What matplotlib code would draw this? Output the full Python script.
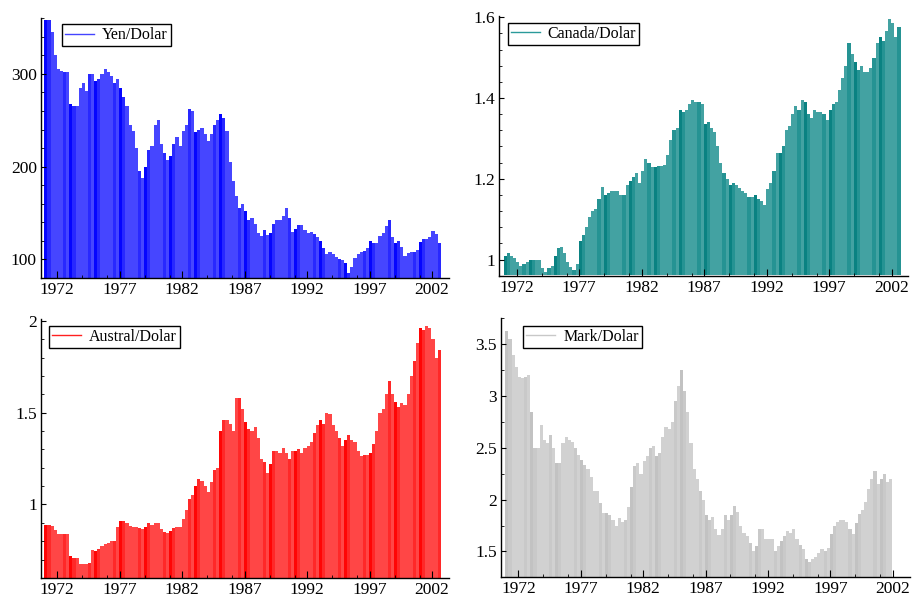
import matplotlib
matplotlib.use("Agg")
import matplotlib.pyplot as plt
import numpy as np

plt.rcParams['font.family'] = ['Liberation Serif', 'DejaVu Serif']

# ---------------- DATA (quarterly) ----------------

start_year = 1971

yen = [358, 358, 345, 320,
       305, 303, 302, 302,
       268, 265, 265, 285,
       290, 282, 300, 300,
       292, 295, 300, 305,
       302, 298, 290, 294,
       285, 275, 265, 245,
       238, 220, 195, 188,
       200, 218, 222, 245,
       250, 225, 215, 207,
       212, 225, 232, 222,
       238, 245, 262, 260,
       237, 240, 242, 235,
       228, 235, 245, 250,
       257, 252, 238, 205,
       185, 168, 155, 160,
       152, 143, 145, 138,
       128, 125, 132, 126,
       128, 138, 143, 143,
       147, 155, 145, 130,
       133, 137, 137, 132,
       128, 130, 127, 124,
       120, 112, 106, 108,
       106, 103, 100, 99,
       96, 85, 92, 102,
       106, 108, 109, 112,
       120, 118, 118, 125,
       129, 136, 142, 124,
       118, 120, 113, 104,
       107, 108, 108, 110,
       119, 122, 122, 124,
       131, 127, 118]

canada = [1.01, 1.015, 1.01, 1.005,
          0.995, 0.985, 0.99, 0.995,
          1.0, 1.0, 1.0, 0.998,
          0.98, 0.97, 0.978, 0.985,
          1.01, 1.028, 1.03, 1.015,
          0.995, 0.982, 0.975, 0.99,
          1.045, 1.06, 1.08, 1.105,
          1.12, 1.125, 1.15, 1.18,
          1.16, 1.165, 1.17, 1.17,
          1.17, 1.16, 1.16, 1.185,
          1.195, 1.205, 1.215, 1.19,
          1.22, 1.25, 1.24, 1.23,
          1.23, 1.232, 1.232, 1.235,
          1.26, 1.295, 1.32, 1.325,
          1.37, 1.365, 1.37, 1.385,
          1.395, 1.39, 1.39, 1.385,
          1.335, 1.34, 1.325, 1.315,
          1.28, 1.24, 1.215, 1.2,
          1.185, 1.19, 1.185, 1.178,
          1.17, 1.165, 1.155, 1.155,
          1.16, 1.15, 1.145, 1.135,
          1.175, 1.19, 1.22, 1.265,
          1.265, 1.28, 1.32, 1.33,
          1.36, 1.38, 1.37, 1.395,
          1.39, 1.36, 1.35, 1.37,
          1.365, 1.365, 1.36, 1.345,
          1.37, 1.385, 1.39, 1.42,
          1.45, 1.48, 1.535, 1.51,
          1.49, 1.47, 1.48, 1.465,
          1.465, 1.475, 1.5, 1.535,
          1.55, 1.54, 1.565, 1.595,
          1.585, 1.55, 1.575]

austral = [0.888, 0.888, 0.885, 0.86,
           0.84, 0.84, 0.84, 0.84,
           0.72, 0.706, 0.706, 0.675,
           0.675, 0.675, 0.68, 0.75,
           0.745, 0.755, 0.775, 0.785,
           0.79, 0.8, 0.8, 0.88,
           0.91, 0.908, 0.9, 0.885,
           0.875, 0.875, 0.87, 0.865,
           0.88, 0.9, 0.89, 0.9,
           0.9, 0.865, 0.85, 0.845,
           0.855, 0.87, 0.875, 0.875,
           0.92, 0.97, 1.03, 1.05,
           1.1, 1.14, 1.13, 1.1,
           1.07, 1.12, 1.19, 1.2,
           1.4, 1.46, 1.46, 1.44,
           1.4, 1.58, 1.58, 1.52,
           1.45, 1.41, 1.4, 1.42,
           1.36, 1.25, 1.23, 1.17,
           1.22, 1.29, 1.29, 1.28,
           1.31, 1.28, 1.25, 1.29,
           1.29, 1.3, 1.28, 1.31,
           1.32, 1.34, 1.39, 1.43,
           1.46, 1.44, 1.5, 1.49,
           1.43, 1.4, 1.36, 1.32,
           1.35, 1.38, 1.35, 1.34,
           1.29, 1.265, 1.27, 1.27,
           1.28, 1.33, 1.4, 1.5,
           1.52, 1.6, 1.67, 1.6,
           1.56, 1.53, 1.55, 1.54,
           1.6, 1.7, 1.78, 1.88,
           1.96, 1.95, 1.97, 1.96,
           1.9, 1.8, 1.84]

mark = [3.63, 3.55, 3.4, 3.28,
        3.18, 3.17, 3.18, 3.2,
        2.85, 2.5, 2.5, 2.72,
        2.58, 2.55, 2.62, 2.5,
        2.35, 2.35, 2.55, 2.6,
        2.58, 2.56, 2.5, 2.43,
        2.38, 2.33, 2.3, 2.22,
        2.08, 2.08, 1.97, 1.87,
        1.87, 1.85, 1.8, 1.75,
        1.82, 1.78, 1.8, 1.93,
        2.12, 2.32, 2.35, 2.25,
        2.37, 2.42, 2.5, 2.52,
        2.42, 2.45, 2.6, 2.7,
        2.68, 2.75, 2.95, 3.1,
        3.25, 3.05, 2.85, 2.55,
        2.3, 2.2, 2.08, 2.0,
        1.85, 1.8, 1.83, 1.72,
        1.66, 1.72, 1.85, 1.8,
        1.85, 1.94, 1.88, 1.75,
        1.68, 1.65, 1.58, 1.5,
        1.55, 1.72, 1.72, 1.62,
        1.62, 1.62, 1.5, 1.55,
        1.6, 1.65, 1.7, 1.68,
        1.72, 1.62, 1.56, 1.52,
        1.43, 1.4, 1.43, 1.45,
        1.48, 1.52, 1.5, 1.53,
        1.67, 1.75, 1.78, 1.8,
        1.8, 1.78, 1.72, 1.67,
        1.77, 1.86, 1.9, 1.98,
        2.1, 2.2, 2.28, 2.15,
        2.2, 2.25, 2.17, 2.2]

labels = ["Yen/Dolar", "Canada/Dolar", "Austral/Dolar", "Mark/Dolar"]
year_ticks = [1972, 1977, 1982, 1987, 1992, 1997, 2002]

# ---------------- LAYOUT ----------------

W, H = 914, 605

panels = [
    # series, (dark, mid, light) fill, legend line, box px (l, r, t, b), xlim, ylim, y major, y minor, legend anchor
    (yen, ("#0505ff", "#2828ff", "#4646ff"), "#4444ff", (41, 449, 18, 278), (1970.695, 2003.36), (80, 360.3),
     [100, 200, 300], np.arange(80, 361, 20), (0.0515, 0.977)),
    (canada, ("#0a8282", "#259393", "#43a2a2"), "#2a9a9a", (499.3, 908, 16, 275.7), (1970.61, 2003.3), (0.961, 1.603),
     [1.0, 1.2, 1.4, 1.6], np.arange(0.96, 1.61, 0.04), (0.0206, 0.974)),
    (austral, ("#ff0505", "#ff2828", "#ff4646"), "#ff2020", (41, 449, 319.3, 578.3), (1970.695, 2003.36), (0.598, 2.008),
     [1.0, 1.5, 2.0], np.arange(0.6, 2.01, 0.1), (0.0196, 0.975)),
    (mark, ("#c2c2c2", "#c9c9c9", "#d1d1d1"), "#c8c8c8", (501, 910, 318.3, 577.3), (1970.61, 2003.39), (1.253, 3.75),
     [1.5, 2.0, 2.5, 3.0, 3.5], np.arange(1.25, 3.76, 0.25), (0.0545, 0.971)),
]

band = [0, 1, 2, 2, 2, 2, 1, 2]

fig = plt.figure(figsize=(W / 100, H / 100), dpi=100)

for (series, shades, lcolor, box, xlim, ylim, ymaj, ymin, anchor), label in zip(panels, labels):
    l, r, t, b = box
    ax = fig.add_axes([l / W, 1 - b / H, (r - l) / W, (b - t) / H])

    n = len(series)
    x = start_year - 1 / 24 + 0.25 * np.arange(n)
    # banded shading like the original screen rendering
    cols = [shades[band[i % len(band)]] for i in range(n)]
    ax.bar(x, np.array(series) - ylim[0], width=0.25, bottom=ylim[0], align="edge",
           color=cols, linewidth=0)
    ax.plot([], [], color=lcolor, linewidth=1, label=label)

    ax.set_xlim(*xlim)
    ax.set_ylim(*ylim)

    ax.set_xticks(year_ticks)
    ax.set_xticks([y + d for y in year_ticks for d in (2, 4) if y + d < xlim[1]], minor=True)
    ax.set_yticks(ymaj)
    ax.set_yticks(ymin, minor=True)
    ax.set_yticklabels(["%g" % v for v in ymaj])

    for s in ["top", "right"]:
        ax.spines[s].set_visible(False)
    for s in ["left", "bottom"]:
        ax.spines[s].set_linewidth(1.0)

    ax.tick_params(axis="both", which="both", direction="in", labelsize=12.5, pad=3)
    ax.tick_params(axis="x", which="major", length=5)
    ax.tick_params(axis="y", which="major", length=3.5)
    ax.tick_params(axis="both", which="minor", length=2.2)

    leg = ax.legend(loc="upper left", bbox_to_anchor=anchor, borderaxespad=0,
                    fontsize=11.5, fancybox=False, framealpha=1, edgecolor="black",
                    handlelength=1.8, handletextpad=0.5, borderpad=0.2)
    leg.get_frame().set_linewidth(1.0)

fig.savefig("out.png", dpi=100)
